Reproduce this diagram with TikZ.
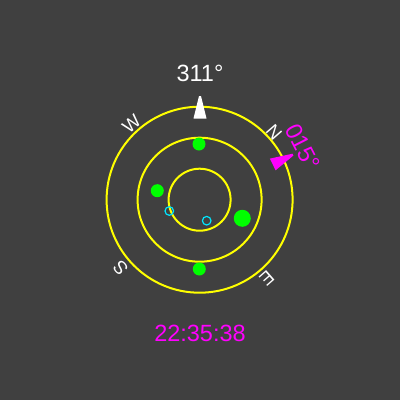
\documentclass[tikz,border=0pt]{standalone}
\usepackage{fontspec}
\setmainfont{Liberation Sans}
\definecolor{bgc}{RGB}{64,64,64}
\definecolor{ringc}{RGB}{255,255,0}
\definecolor{satc}{RGB}{0,255,0}
\definecolor{cyc}{RGB}{0,230,255}
\definecolor{magc}{RGB}{255,0,255}
\begin{document}
\begin{tikzpicture}[x=1pt,y=-1pt,
  ring/.style={draw=ringc,line width=2pt},
  sat/.style={fill=satc},
  sbas/.style={draw=cyc,line width=1.2pt},
  cardinal/.style={text=white,font=\fontsize{18.5}{18.5}\selectfont,inner sep=0pt,anchor=center},
  bigtext/.style={font=\fontsize{23.5}{23.5}\selectfont,inner sep=0pt,anchor=center}]
\fill[bgc] (0,0) rectangle (400,400);
\useasboundingbox (0,0) rectangle (400,400);
% rings
\draw[ring] (199.6,199.7) circle (93);
\draw[ring] (199.6,199.7) circle (62);
\draw[ring] (199.6,199.7) circle (31);
% heading marker
\fill[white] (199,96) -- (201,96) -- (206.5,118.5) -- (193.5,118.5) -- cycle;
\node[bigtext,text=white] (heading) at (200,73) {311°};
% bearing marker
\begin{scope}[rotate around={-64:(199.6,199.7)}]
\fill[magc] (199,96) -- (201,96) -- (206.5,118.5) -- (193.5,118.5) -- cycle;
\end{scope}
\node[bigtext,text=magc,rotate=-63] (bearing) at (303,147) {015°};
% cardinal letters
\node[cardinal,rotate=41] (W) at (131.5,123.5) {W};
\node[cardinal,rotate=-49] (N) at (274,132) {N};
\node[cardinal,rotate=-139] (E) at (267,278.5) {E};
\node[cardinal,rotate=131] (S) at (120.5,268.5) {S};
% satellites
\fill[sat] (199,144) circle (6.5);
\fill[sat] (157.3,190.7) circle (6.5);
\fill[sat] (242.3,218.3) circle (8.5);
\fill[sat] (199.3,269) circle (6.5);
\draw[sbas] (169.3,211) circle (4.3);
\draw[sbas] (206.7,220.7) circle (4.3);
% time
\node[bigtext,text=magc] (time) at (200,333) {22:35:38};
\end{tikzpicture}
\end{document}
